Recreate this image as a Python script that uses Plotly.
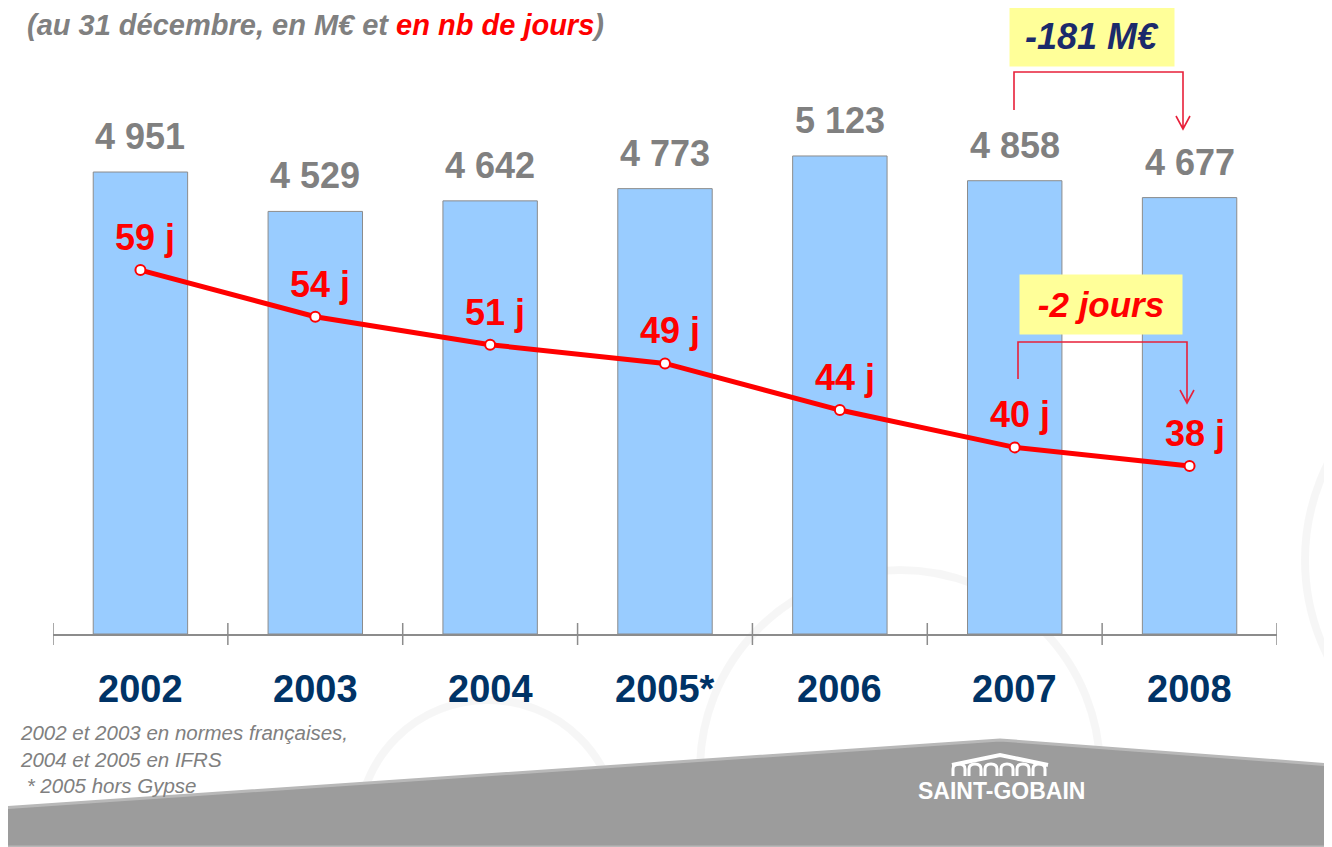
import plotly.graph_objects as go

# ---- data ----
years = ["2002", "2003", "2004", "2005*", "2006", "2007", "2008"]
bfr_meur = [4951, 4529, 4642, 4773, 5123, 4858, 4677]
bfr_labels = ["4 951", "4 529", "4 642", "4 773", "5 123", "4 858", "4 677"]
days = [59, 54, 51, 49, 44, 40, 38]
day_labels = ["59 j", "54 j", "51 j", "49 j", "44 j", "40 j", "38 j"]
delta_meur_label = "-181 M€"
delta_days_label = "-2 jours"
title_grey = "(au 31 décembre, en M€ et "
title_red = "en nb de jours"
footnote = ["2002 et 2003 en normes françaises,", "2004 et 2005 en IFRS", " * 2005 hors Gypse"]

# ---- layout geometry (screen pixels; page body has an 8px margin) ----
OFF = 8
WIDTH, HEIGHT = 1332 - OFF, 847 - OFF
L, R, T, B = 53, 1277, 40, 634          # plot area in screen pixels
PW, PH = R - L, B - T


def px(x):
    return (x - L) / PW


def py(y):
    return (B - y) / PH


FONT = "Arial, Liberation Sans, sans-serif"
GREY = "#808080"
RED = "#FF0000"
NAVY = "#003366"

xi = list(range(len(years)))

fig = go.Figure()
fig.add_trace(go.Bar(
    x=xi, y=bfr_meur, width=0.54,
    marker=dict(color="#99CCFF", line=dict(color="#8C8C8C", width=1)),
    hoverinfo="skip", yaxis="y",
))
fig.add_trace(go.Scatter(
    x=xi, y=days, mode="lines+markers", yaxis="y2",
    line=dict(color=RED, width=5),
    marker=dict(size=10, color="white", line=dict(color=RED, width=2)),
    hoverinfo="skip",
))

ann = []
for i, (v, t) in enumerate(zip(bfr_meur, bfr_labels)):
    ann.append(dict(x=i, y=v, xref="x", yref="y", text=f"<b>{t}</b>", showarrow=False,
                    xanchor="center", yanchor="bottom", yshift=13,
                    font=dict(family=FONT, size=36, color=GREY)))
for i, (d, t) in enumerate(zip(days, day_labels)):
    ann.append(dict(x=i, y=d, xref="x", yref="y2", text=f"<b>{t}</b>", showarrow=False,
                    xanchor="center", yanchor="bottom", xshift=5, yshift=10,
                    font=dict(family=FONT, size=36, color=RED)))
for i, yl in enumerate(years):
    ann.append(dict(x=i, y=py(689), xref="x", yref="paper", text=f"<b>{yl}</b>", showarrow=False,
                    xanchor="center", yanchor="middle", font=dict(family=FONT, size=38, color=NAVY)))
ann.append(dict(x=px(26), y=py(OFF), xref="paper", yref="paper", xanchor="left", yanchor="top",
                showarrow=False, borderpad=0,
                text=f"<b><i>{title_grey}<span style='color:{RED}'>{title_red}</span>)</i></b>",
                font=dict(family=FONT, size=29, color=GREY)))
ann.append(dict(x=px(19), y=py(759), xref="paper", yref="paper", xanchor="left", yanchor="middle",
                showarrow=False, align="left", borderpad=0,
                text="<i>" + "<br>".join(footnote) + "</i>",
                font=dict(family=FONT, size=20.5, color="#808080")))
ann.append(dict(x=px(1092), y=py(36), xref="paper", yref="paper", showarrow=False,
                xanchor="center", yanchor="middle",
                text=f"<b><i>{delta_meur_label}</i></b>", width=162, height=57, bgcolor="#FFFF99",
                font=dict(family=FONT, size=36, color="#1B2A6B")))
ann.append(dict(x=px(1101), y=py(304), xref="paper", yref="paper", showarrow=False,
                xanchor="center", yanchor="middle",
                text=f"<b><i>{delta_days_label}</i></b>", width=160, height=57, bgcolor="#FFFF99",
                font=dict(family=FONT, size=35, color=RED)))
ann.append(dict(x=px(1001), y=py(791), xref="paper", yref="paper", showarrow=False,
                xanchor="center", yanchor="middle",
                text="<b>SAINT-GOBAIN</b>", font=dict(family=FONT, size=23, color="white")))

shapes = []
# faint background rings
for (cx, cy, r) in [(488, 830, 130), (900, 770, 200), (1520, 560, 215)]:
    shapes.append(dict(type="circle", xref="paper", yref="paper", layer="below",
                       x0=px(cx - r), x1=px(cx + r), y0=py(cy + r), y1=py(cy - r),
                       line=dict(color="rgba(0,0,0,0.035)", width=8)))
# grey bottom band
band = (f"M {px(0)},{py(808)} L {px(1000)},{py(740)} L {px(1332)},{py(765)} "
        f"L {px(1332)},{py(847)} L {px(0)},{py(847)} Z")
shapes.append(dict(type="path", path=band, xref="paper", yref="paper", layer="below",
                   fillcolor="#9C9C9C", line=dict(color="#B8B8B8", width=3)))
# logo arches
roof = f"M {px(952)},{py(765)} L {px(1000)},{py(755)} L {px(1048)},{py(765)}"
shapes.append(dict(type="path", path=roof, xref="paper", yref="paper",
                   line=dict(color="white", width=4)))
for k in range(6):
    x0 = 953 + 16 * k
    x1 = x0 + 12
    xm = (x0 + x1) / 2
    arch = (f"M {px(x0)},{py(776)} L {px(x0)},{py(769)} Q {px(x0)},{py(764)} {px(xm)},{py(764)} "
            f"Q {px(x1)},{py(764)} {px(x1)},{py(769)} L {px(x1)},{py(776)}")
    shapes.append(dict(type="path", path=arch, xref="paper", yref="paper",
                       line=dict(color="white", width=3)))
# x-axis ticks crossing the axis line
for k in range(len(years) + 1):
    shapes.append(dict(type="line", xref="x", yref="paper", x0=k - 0.5, x1=k - 0.5,
                       y0=py(645), y1=py(623), line=dict(color="#8C8C8C", width=1.5)))
BR = "#E8203A"


def bracket(x1, ystart, ytop, x2, yend):
    p = (f"M {px(x1)},{py(ystart)} L {px(x1)},{py(ytop)} L {px(x2)},{py(ytop)} L {px(x2)},{py(yend)} "
         f"M {px(x2 - 7)},{py(yend - 13)} L {px(x2)},{py(yend)} L {px(x2 + 7)},{py(yend - 13)}")
    return dict(type="path", path=p, xref="paper", yref="paper", line=dict(color=BR, width=1.6))


shapes.append(bracket(1014, 110, 72, 1183, 129))
shapes.append(bracket(1018, 379, 342, 1187, 403))

fig.update_layout(
    width=WIDTH, height=HEIGHT,
    margin=dict(l=L - OFF, r=WIDTH - (R - OFF), t=T - OFF, b=HEIGHT - (B - OFF), pad=0),
    paper_bgcolor="white", plot_bgcolor="rgba(0,0,0,0)",
    showlegend=False,
    xaxis=dict(range=[-0.5, 6.5], showgrid=False, zeroline=False, showticklabels=False,
               showline=True, linecolor="#8C8C8C", linewidth=1.5, ticks=""),
    yaxis=dict(range=[0, 6366], visible=False, showgrid=False),
    yaxis2=dict(range=[20, 83.66], visible=False, overlaying="y", showgrid=False),
    annotations=ann, shapes=shapes,
)

fig.write_html("out.html")
